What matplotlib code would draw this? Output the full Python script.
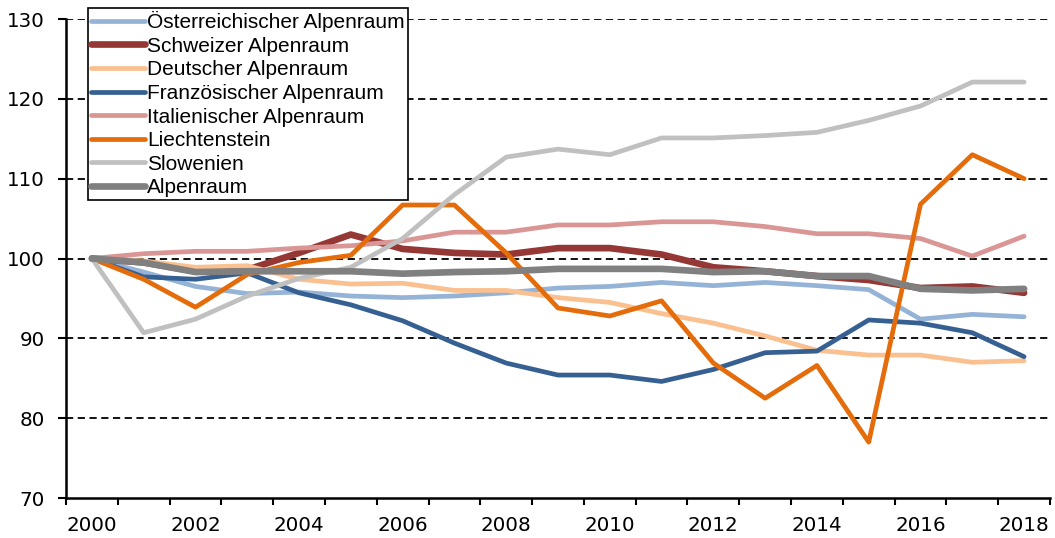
import matplotlib
matplotlib.use("Agg")
import matplotlib.pyplot as plt
from matplotlib.ticker import FixedLocator, NullFormatter

plt.rcParams['font.family'] = ['Liberation Sans', 'DejaVu Sans']

years = list(range(2000, 2019))
year_labels = [str(y) if y % 2 == 0 else "" for y in years]

oesterreich = [100, 98.3, 96.5, 95.6, 95.8, 95.3, 95.1, 95.3, 95.7, 96.3, 96.5, 97.0, 96.6, 97.0, 96.6, 96.1, 92.4, 93.0, 92.7]
schweiz = [100, 99.5, 98.4, 98.6, 100.7, 103.0, 101.2, 100.7, 100.5, 101.3, 101.3, 100.5, 98.9, 98.4, 97.8, 97.3, 96.3, 96.5, 95.7]
deutschland = [100, 99.7, 98.9, 99.1, 97.4, 96.8, 96.9, 96.0, 96.0, 95.1, 94.5, 93.1, 91.9, 90.3, 88.5, 87.9, 87.9, 87.0, 87.2]
frankreich = [100, 97.7, 97.4, 98.2, 95.7, 94.2, 92.2, 89.4, 86.9, 85.4, 85.4, 84.6, 86.1, 88.2, 88.4, 92.3, 91.9, 90.7, 87.7]
italien = [100, 100.6, 100.9, 100.9, 101.3, 101.6, 102.2, 103.3, 103.3, 104.2, 104.2, 104.6, 104.6, 104.0, 103.1, 103.1, 102.5, 100.3, 102.8]
liechtenstein = [100, 97.4, 93.9, 98.0, 99.5, 100.4, 106.7, 106.7, 100.7, 93.8, 92.8, 94.7, 86.9, 82.5, 86.6, 77.0, 106.8, 113.0, 110.0]
slowenien = [100, 90.7, 92.4, 95.3, 97.5, 98.9, 102.5, 108.0, 112.7, 113.7, 113.0, 115.1, 115.1, 115.4, 115.8, 117.3, 119.1, 122.1, 122.1]
alpenraum = [100, 99.5, 98.3, 98.4, 98.4, 98.4, 98.1, 98.3, 98.4, 98.7, 98.7, 98.7, 98.3, 98.4, 97.8, 97.8, 96.2, 96.0, 96.2]

series = [
    ("Österreichischer Alpenraum", oesterreich, "#95B3D7", 3.4),
    ("Schweizer Alpenraum", schweiz, "#953735", 4.8),
    ("Deutscher Alpenraum", deutschland, "#FAC090", 3.4),
    ("Französischer Alpenraum", frankreich, "#376092", 3.4),
    ("Italienischer Alpenraum", italien, "#D99694", 3.4),
    ("Liechtenstein", liechtenstein, "#E46C0A", 3.4),
    ("Slowenien", slowenien, "#C0C0C0", 3.4),
    ("Alpenraum", alpenraum, "#808080", 4.8),
]

fig = plt.figure(figsize=(10.55, 5.38), dpi=100)
ax = fig.add_axes([66 / 1055, 1 - 498 / 538, (1050 - 66) / 1055, (498 - 19) / 538])

x = list(range(len(years)))
for name, vals, col, lw in series:
    ax.plot(x, vals, color=col, lw=lw, label=name, solid_capstyle='round', solid_joinstyle='round')

ax.set_xlim(-0.5, len(years) - 0.5)
ax.set_ylim(70, 130)
ax.set_yticks([70, 80, 90, 100, 110, 120, 130])

# x: labels at categories, tick marks between categories
ax.set_xticks(x)
ax.set_xticklabels(year_labels)
ax.xaxis.set_minor_locator(FixedLocator([i - 0.5 for i in range(len(years) + 1)]))
ax.xaxis.set_minor_formatter(NullFormatter())
ax.tick_params(axis='x', which='major', length=0, pad=13)
ax.tick_params(axis='x', which='minor', length=5, width=1.5, direction='out')
ax.tick_params(axis='y', length=6, width=1.5, direction='out', pad=9)
for lab in ax.get_xticklabels() + ax.get_yticklabels():
    lab.set_fontfamily('DejaVu Sans')
    lab.set_fontsize(14.3)

for y in [80, 90, 100, 110, 120, 130]:
    ax.axhline(y, color='black', lw=1.3, ls=(0, (4, 2.5)), zorder=0.5)

ax.spines['top'].set_visible(False)
ax.spines['right'].set_visible(False)
ax.spines['left'].set_linewidth(1.8)
ax.spines['bottom'].set_linewidth(1.8)

leg = ax.legend(loc='upper left', bbox_to_anchor=(88 / 1055, 1 - 8 / 538),
                bbox_transform=fig.transFigure, fontsize=15, frameon=True,
                fancybox=False, edgecolor='black', framealpha=1,
                borderaxespad=0, borderpad=0.15, labelspacing=0.22,
                handlelength=2.6, handletextpad=0.1)
leg.get_frame().set_linewidth(1.2)
leg.set_zorder(5)

fig.savefig("out.png", dpi=100)
